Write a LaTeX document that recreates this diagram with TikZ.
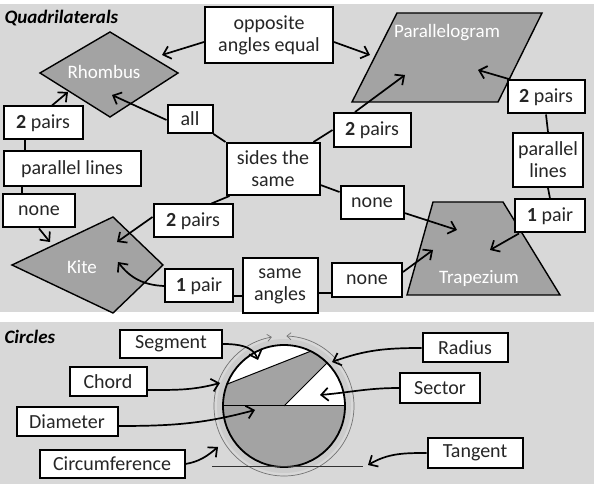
\documentclass[tikz,border=0pt]{standalone}
\usepackage{fontspec}
\setmainfont{Carlito}
\usepackage{tikz}
\usetikzlibrary{arrows.meta}
\definecolor{qpanel}{RGB}{216,216,216}
\definecolor{qshape}{RGB}{163,163,163}
\definecolor{qhalo}{RGB}{204,204,204}

\begin{document}
\begin{tikzpicture}[x=1pt, y=1pt,
  box/.style={draw, line width=2pt, fill=white, inner sep=0pt, align=center,
    font=\fontsize{20}{22}\selectfont, text=black!85},
  shp/.style={draw, line width=1.4pt, fill=qshape},
  shptxt/.style={text=white, font=\fontsize{19}{20}\selectfont},
  arr/.style={line width=1.7pt, -{Straight Barb[length=7pt,width=13pt,line width=1.7pt]}},
  link/.style={line width=1.7pt},
  title/.style={anchor=west, font=\fontsize{19}{20}\selectfont\bfseries\itshape}]

\useasboundingbox (0,0) rectangle (594,484);
\fill[qpanel] (0,172) rectangle (594,480);
\fill[qpanel] (0,0) rectangle (594,162);

% Quadrilaterals
\node[title] (qtitle) at (1,466) {Quadrilaterals};
\draw[shp] (40,411) -- (110,452) -- (178,411) -- (110,367) -- cycle;
\node[shptxt] (rhombus) at (104,412) {Rhombus};
\draw[shp] (397,471) -- (542,471) -- (498,382) -- (352,382) -- cycle;
\node[shptxt] (para) at (447,451) {Parallelogram};
\draw[shp] (433,282) -- (503,282) -- (560,189) -- (407,189) -- cycle;
\node[shptxt] (trap) at (479,206) {Trapezium};
\draw[shp] (12,219) -- (113,267) -- (163,219) -- (113,171) -- cycle;
\node[shptxt] (kite) at (82,217) {Kite};

\coordinate (rhOpp) at (162,429);
\coordinate (rhAll) at (112,389);
\coordinate (rhTwo) at (68,392);
\coordinate (paOpp) at (370,429);
\coordinate (paTwo) at (405,409);
\coordinate (paRt) at (478,414);
\coordinate (trNoneU) at (457,254);
\coordinate (trNoneL) at (433,234);
\coordinate (trOne) at (490,234);
\coordinate (kiNone) at (50,242);
\coordinate (kiTwo) at (117,242);
\coordinate (kiOne) at (118,222);

\node[box, minimum width=128, minimum height=56] (opp) at (269,449) {opposite\\angles equal};
\node[box, minimum width=77, minimum height=33] (pairsR) at (546,387) {\textbf{2} pairs};
\node[box, minimum width=77, minimum height=34] (pairsP) at (372,354) {\textbf{2} pairs};
\node[box, minimum width=70, minimum height=54] (parR) at (548,324) {parallel\\lines};
\node[box, minimum width=70, minimum height=33] (pairR) at (550,268) {\textbf{1} pair};
\node[box, minimum width=63, minimum height=33] (noneU) at (372,281) {none};
\node[box, minimum width=70, minimum height=34] (noneT) at (367,204) {none};
\node[box, minimum width=93, minimum height=52] (sides) at (273,315) {sides the\\same};
\node[box, minimum width=45, minimum height=28] (all) at (190,365) {all};
\node[box, minimum width=79, minimum height=33] (pairsL) at (43,361) {\textbf{2} pairs};
\node[box, minimum width=137, minimum height=35] (parL) at (72,315) {parallel lines};
\node[box, minimum width=72, minimum height=33] (noneK) at (39,273) {none};
\node[box, minimum width=79, minimum height=33] (pairsK) at (193,263) {\textbf{2} pairs};
\node[box, minimum width=68, minimum height=33] (pairK) at (199,198) {\textbf{1} pair};
\node[box, minimum width=75, minimum height=55] (same) at (280,198) {same\\angles};

\draw[arr] ([yshift=-7pt]opp.west) -- (rhOpp);
\draw[arr] ([yshift=-7pt]opp.east) -- (paOpp);
\draw[arr] ([xshift=4pt]pairsR.north west) -- (paRt);
\draw[arr] ([xshift=-17pt]pairsP.north) -- (paTwo);
\draw[link] ([xshift=-7pt]sides.north east) -- (pairsP.west);
\draw[link] (all.south east) -- (sides.north west);
\draw[arr] ([yshift=-1pt]all.west) -- (rhAll);
\draw[arr] ([xshift=9pt]pairsL.north) -- (rhTwo);
\draw[link] ([xshift=-18pt]pairsL.south) -- ([xshift=-18pt]pairsL.south |- parL.north);
\draw[link] ([xshift=-17pt]noneK.north) -- ([xshift=-17pt]noneK.north |- parL.south);
\draw[arr] (noneK.south) -- (kiNone);
\draw[link] ([xshift=4pt]sides.south west) -- ([xshift=-22pt]pairsK.north east);
\draw[arr] ([yshift=4pt]pairsK.west) -- (kiTwo);
\draw[arr] (pairK.west) to[bend left=25] (kiOne);
\draw[link] ([yshift=-10pt]pairK.east) -- ([yshift=-10pt]pairK.east -| same.west);
\draw[link] ([yshift=-7pt]same.east) -- ([yshift=-7pt]same.east -| noneT.west);
\draw[arr] ([yshift=8pt]noneT.east) -- (trNoneL);
\draw[link] ([yshift=-16pt]sides.east) -- ([yshift=11pt]noneU.west);
\draw[arr] ([yshift=-10pt]noneU.east) -- (trNoneU);
\draw[link] (pairsR.south) -- (parR.north);
\draw[link] (parR.south) -- (pairR.north);
\draw[arr] ([xshift=5pt]pairR.south west) -- (trOne);

% Circles
\node[title] (ctitle) at (1,147) {Circles};
\coordinate (cc) at (284,78);
\fill[qhalo] (cc) circle (67);
\draw[black!55, line width=0.7pt, -{Straight Barb[length=4pt,width=7pt]}]
  (cc) ++(270:70) arc[start angle=270, end angle=100, radius=70];
\draw[black!55, line width=0.7pt, -{Straight Barb[length=4pt,width=7pt]}]
  (cc) ++(-90:70) arc[start angle=-90, end angle=88, radius=70];
\path (cc) ++(159:61) coordinate (chA);
\path (cc) ++(64:61) coordinate (chB);
\path (cc) ++(45:61) coordinate (ra);
\path (cc) ++(180:61) coordinate (diA);
\path (cc) ++(0:61) coordinate (diB);
\fill[qshape] (cc) circle (61);
\fill[white] (chA) arc[start angle=159, end angle=64, radius=61] -- cycle;
\fill[white] (cc) -- (diB) arc[start angle=0, end angle=45, radius=61] -- cycle;
\draw[line width=1pt] (diA) -- (diB);
\draw[line width=1pt] (chA) -- (chB);
\draw[line width=1pt] (cc) -- (ra);
\draw[line width=1.8pt] (cc) circle (61);
\coordinate (tgA) at (212,17);
\coordinate (tgB) at (363,17);
\draw[line width=1pt, black!80] (tgA) -- (tgB);

\coordinate (tSeg) at (258,124);
\coordinate (tChord) at (220,101);
\coordinate (tDiam) at (255,74);
\coordinate (tCirc) at (218,37);
\coordinate (tRad) at (332,122);
\coordinate (tSec) at (320,89);
\coordinate (tTan) at (368,19);

\node[box, minimum width=102, minimum height=28] (segment) at (171,140) {Segment};
\node[box, minimum width=77, minimum height=29] (chord) at (108,102) {Chord};
\node[box, minimum width=101, minimum height=29] (diameter) at (67,62) {Diameter};
\node[box, minimum width=145, minimum height=28] (circum) at (112,20) {Circumference};
\node[box, minimum width=85, minimum height=29] (radius) at (465,136) {Radius};
\node[box, minimum width=80, minimum height=30] (sector) at (440,96) {Sector};
\node[box, minimum width=95, minimum height=30] (tangent) at (475,31) {Tangent};

\draw[arr] (segment.east) to[out=0, in=110] (tSeg);
\draw[arr] ([yshift=-8pt]chord.east) to[out=0, in=195] (tChord);
\draw[arr] ([yshift=-4pt]diameter.east) to[out=0, in=195] (tDiam);
\draw[arr] (circum.east) to[out=10, in=220] (tCirc);
\draw[arr] (radius.west) to[out=180, in=20] (tRad);
\draw[arr] (sector.west) to[out=180, in=5] (tSec);
\draw[arr] (tangent.west) to[out=180, in=30] (tTan);
\end{tikzpicture}
\end{document}
